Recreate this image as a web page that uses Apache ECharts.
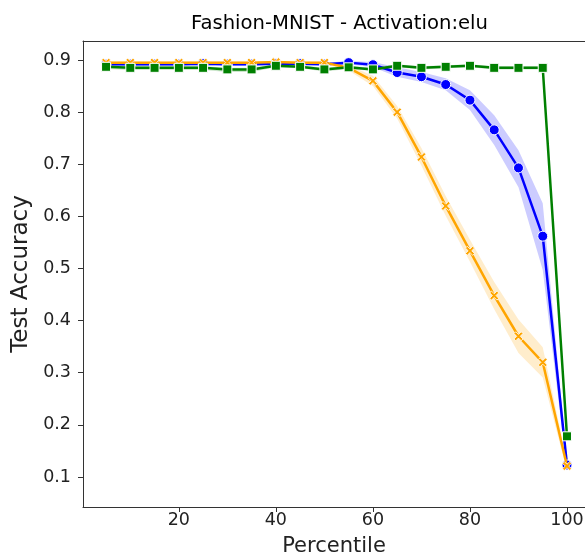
<!DOCTYPE html>
<html>
<head>
<meta charset="utf-8">
<script src="https://cdn.jsdelivr.net/npm/echarts@6/dist/echarts.min.js"></script>
<style>html,body{margin:0;padding:0;background:#fff}#c{width:585px;height:552px}</style>
</head>
<body>
<div id="c"></div>
<script>
var percentiles = [5,10,15,20,25,30,35,40,45,50,55,60,65,70,75,80,85,90,95,100];

var blueMean = [0.892,0.892,0.892,0.892,0.893,0.892,0.892,0.893,0.893,0.892,0.895,0.891,0.876,0.868,0.853,0.823,0.766,0.693,0.562,0.123];
var blueLow  = [0.889,0.889,0.889,0.889,0.890,0.889,0.889,0.890,0.890,0.889,0.892,0.886,0.868,0.858,0.842,0.804,0.737,0.656,0.497,0.113];
var blueHigh = [0.895,0.895,0.895,0.895,0.896,0.895,0.895,0.896,0.896,0.895,0.898,0.896,0.886,0.877,0.865,0.842,0.794,0.727,0.625,0.133];

var orangeMean = [0.895,0.895,0.895,0.895,0.895,0.895,0.895,0.896,0.895,0.895,0.885,0.860,0.800,0.714,0.620,0.534,0.448,0.370,0.320,0.121];
var orangeLow  = [0.893,0.893,0.893,0.893,0.893,0.893,0.893,0.894,0.893,0.893,0.880,0.850,0.788,0.697,0.601,0.513,0.422,0.338,0.291,0.112];
var orangeHigh = [0.897,0.897,0.897,0.897,0.897,0.897,0.897,0.898,0.897,0.897,0.890,0.870,0.812,0.731,0.639,0.555,0.474,0.402,0.349,0.130];

var greenMean = [0.887,0.885,0.885,0.885,0.885,0.882,0.882,0.889,0.887,0.882,0.886,0.882,0.889,0.885,0.887,0.889,0.885,0.885,0.885,0.178];
var greenLow  = [0.883,0.881,0.881,0.881,0.881,0.877,0.877,0.886,0.884,0.878,0.883,0.879,0.886,0.882,0.884,0.886,0.882,0.882,0.882,0.175];
var greenHigh = [0.890,0.888,0.888,0.888,0.888,0.885,0.885,0.892,0.890,0.885,0.889,0.885,0.892,0.888,0.890,0.892,0.888,0.888,0.888,0.181];

var xTicks = [20,40,60,80,100];
var yTicks = [0.1,0.2,0.3,0.4,0.5,0.6,0.7,0.8,0.9];

function pairs(xs, ys){ return xs.map(function(x,i){ return [x, ys[i]]; }); }

function bandSeries(low, high, color){
  return {
    type:'custom', silent:true, z:1,
    data:[[percentiles[0], low[0]]],
    renderItem:function(params, api){
      var pts = [];
      for (var i=0;i<percentiles.length;i++) pts.push(api.coord([percentiles[i], high[i]]));
      for (var j=percentiles.length-1;j>=0;j--) pts.push(api.coord([percentiles[j], low[j]]));
      return {type:'polygon', shape:{points:pts}, style:{fill:color, stroke:null}};
    }
  };
}

var xPath = 'path://M2,0 L5,3 L8,0 L10,2 L7,5 L10,8 L8,10 L5,7 L2,10 L0,8 L3,5 L0,2 Z';
var font = 'DejaVu Sans';

var chart = echarts.init(document.getElementById('c'), null, {renderer:'canvas'});
chart.setOption({
  animation:false,
  backgroundColor:'#fff',
  title:{
    text:'Fashion-MNIST - Activation:elu',
    left:186, top:9,
    textStyle:{fontFamily:font, fontSize:19.6, fontWeight:'normal', color:'#000'}
  },
  grid:{left:83, right:0, top:41, bottom:45, show:false, containLabel:false, outerBoundsMode:'none'},
  xAxis:[{
    type:'value', min:0.25, max:103.71,
    name:'Percentile', nameLocation:'middle', nameGap:29,
    nameTextStyle:{fontFamily:font, fontSize:21, color:'#222'},
    axisLine:{show:true, onZero:false, lineStyle:{color:'#333', width:1}},
    axisTick:{show:true, length:5, lineStyle:{color:'#333'}, customValues:xTicks},
    axisLabel:{fontFamily:font, fontSize:17.5, color:'#222', margin:4, customValues:xTicks},
    splitLine:{show:false}
  },{
    type:'value', position:'top', min:0.25, max:103.71,
    axisLine:{show:true, onZero:false, lineStyle:{color:'#333', width:1}},
    axisTick:{show:false}, axisLabel:{show:false}, splitLine:{show:false}
  }],
  yAxis:{
    type:'value', min:0.0424, max:0.9365,
    name:'Test Accuracy', nameLocation:'middle', nameGap:48,
    nameTextStyle:{fontFamily:font, fontSize:23, color:'#222'},
    axisLine:{show:true, onZero:false, lineStyle:{color:'#333', width:1}},
    axisTick:{show:true, length:5, lineStyle:{color:'#333'}, customValues:yTicks},
    axisLabel:{fontFamily:font, fontSize:17.5, color:'#222', margin:12, customValues:yTicks,
      formatter:function(v){ return v.toFixed(1); }},
    splitLine:{show:false}
  },
  series:[
    bandSeries(blueLow, blueHigh, 'rgba(0,0,255,0.2)'),
    bandSeries(orangeLow, orangeHigh, 'rgba(255,165,0,0.2)'),
    bandSeries(greenLow, greenHigh, 'rgba(0,128,0,0.2)'),
    {
      type:'line', z:3, data:pairs(percentiles, blueMean),
      lineStyle:{color:'#0000ff', width:2.5},
      symbol:'circle', symbolSize:10,
      itemStyle:{color:'#0000ff', borderColor:'#fff', borderWidth:1}
    },
    {
      type:'line', z:4, data:pairs(percentiles, orangeMean),
      lineStyle:{color:'#ffa500', width:2.5},
      symbol:xPath, symbolSize:9,
      itemStyle:{color:'#ffa500', borderColor:'#fff', borderWidth:0.8}
    },
    {
      type:'line', z:5, data:pairs(percentiles, greenMean),
      lineStyle:{color:'#008000', width:2.5},
      symbol:'rect', symbolSize:9,
      itemStyle:{color:'#008000', borderColor:'#fff', borderWidth:1}
    }
  ]
});
</script>
</body>
</html>
